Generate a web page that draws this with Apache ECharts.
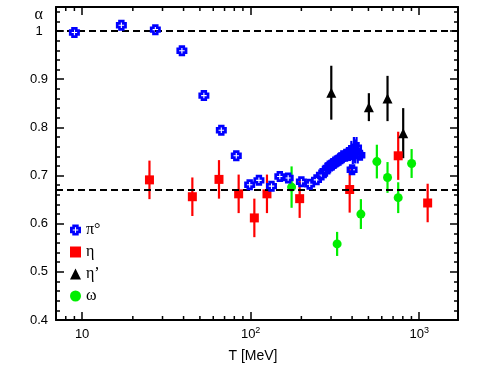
<!DOCTYPE html>
<html><head><meta charset="utf-8">
<script src="https://cdn.jsdelivr.net/npm/echarts@6/dist/echarts.min.js"></script>
<style>html,body{margin:0;padding:0;background:#fff}#c{width:491px;height:368px}</style>
</head><body><div id="c"></div>
<script>
// π0 data
const piT = [9.0, 17.1, 27.2, 39.1, 52.8, 67.0, 82.2, 98.7, 112, 133, 149, 167, 200, 224, 246, 263, 276, 288, 295, 303, 310, 318, 325, 332, 340, 347, 355, 363, 370, 377, 384, 389, 396, 400, 404, 410, 417, 425, 432, 445];
const piA = [0.997, 1.012, 1.003, 0.959, 0.866, 0.794, 0.741, 0.681, 0.690, 0.678, 0.698, 0.695, 0.687, 0.682, 0.691, 0.701, 0.709, 0.716, 0.720, 0.722, 0.725, 0.728, 0.730, 0.732, 0.735, 0.737, 0.741, 0.740, 0.744, 0.742, 0.748, 0.745, 0.752, 0.712, 0.744, 0.755, 0.750, 0.758, 0.745, 0.742];
const piErr = [0, 0, 0, 0, 0, 0, 0, 0, 0, 0, 0, 0, 0, 0, 0, 0, 0, 0, 0, 0, 0, 0, 0, 0, 0, 0, 0.008, 0.01, 0.012, 0.012, 0.015, 0.015, 0.02, 0.008, 0.02, 0.025, 0.025, 0.022, 0.02, 0.01];
// η data
const etaT = [25.1, 45.1, 64.9, 84.9, 105.2, 125, 195.4, 387, 751, 1123];
const etaA = [0.691, 0.656, 0.692, 0.662, 0.612, 0.662, 0.652, 0.671, 0.741, 0.643];
const etaErr = [0.04, 0.04, 0.04, 0.04, 0.04, 0.04, 0.04, 0.048, 0.05, 0.04];
// η' data
const etapT = [301, 503, 649, 804];
const etapA = [0.872, 0.842, 0.860, 0.788];
const etapErr = [0.056, 0.029, 0.047, 0.052];
// ω data
const omT = [175, 326, 451, 561, 649, 751, 902];
const omA = [0.676, 0.558, 0.620, 0.729, 0.696, 0.654, 0.725];
const omErr = [0.043, 0.025, 0.031, 0.035, 0.032, 0.032, 0.03];
// reference lines
const refLines = [1, 2 / 3];
// axis ticks
const xMinorTicks = [8, 9, 20, 30, 40, 50, 60, 70, 80, 90, 200, 300, 400, 500, 600, 700, 800, 900];
const names = ['π°', 'η', 'η’', 'ω'];

const crossPath = 'path://M2.5,0L9.5,0L9.5,2.5L12,2.5L12,9.5L9.5,9.5L9.5,12L2.5,12L2.5,9.5L0,9.5L0,2.5L2.5,2.5ZM5.4,3L5.4,5.4L3,5.4L3,6.6L5.4,6.6L5.4,9L6.6,9L6.6,6.6L9,6.6L9,5.4L6.6,5.4L6.6,3Z';
const BLUE = '#0000ff', RED = '#ff0000', GREEN = '#00ee00', BLACK = '#000000';

function errSeries(name, T, A, E, color) {
  return {
    type: 'custom', name: name, coordinateSystem: 'cartesian2d', silent: true, z: 2,
    data: T.map((t, i) => [t, A[i] - E[i], A[i] + E[i]]),
    encode: { x: 0, y: [1, 2] },
    renderItem: function (params, api) {
      const lo = api.coord([api.value(0), api.value(1)]);
      const hi = api.coord([api.value(0), api.value(2)]);
      return { type: 'line', shape: { x1: lo[0], y1: lo[1], x2: hi[0], y2: hi[1] }, style: { stroke: color, lineWidth: 2.2 } };
    }
  };
}
function pts(T, A) { return T.map((t, i) => [t, A[i]]); }

const xLabelFmt = function (v) {
  const e = Math.round(Math.log10(v));
  if (Math.abs(v - Math.pow(10, e)) > 1e-6 * v) return '';
  return e === 1 ? '{b|10}' : '{b|10}{s|' + e + '}';
};
const xRich = { b: { fontSize: 13, fontFamily: 'Liberation Sans', color: '#000', lineHeight: 16 }, s: { fontSize: 9, fontFamily: 'Liberation Sans', color: '#000', verticalAlign: 'top', lineHeight: 16, padding: [0, 0, 6, 0] } };

const baseX = {
  type: 'log', logBase: 10, min: 7, max: 1700,
  axisLine: { show: true, lineStyle: { color: '#000', width: 2 } },
  axisTick: { show: true, inside: true, length: 8, lineStyle: { color: '#000', width: 1.5 } },
  splitLine: { show: false }, minorSplitLine: { show: false }
};
const baseY = {
  type: 'value', min: 0.4, max: 1.05, interval: 0.1,
  axisLine: { show: true, lineStyle: { color: '#000', width: 2 } },
  axisTick: { show: true, inside: true, length: 8, lineStyle: { color: '#000', width: 1.5 } },
  minorTick: { show: true, splitNumber: 5, length: 4, lineStyle: { color: '#000', width: 1.5 } },
  splitLine: { show: false }, minorSplitLine: { show: false }
};

const chart = echarts.init(document.getElementById('c'), null, { renderer: 'canvas' });
chart.setOption({
  animation: false,
  backgroundColor: '#fff',
  grid: { left: 56, right: 33, top: 7, bottom: 48, containLabel: false },
  legend: {
    orient: 'vertical', left: 65, top: 217, itemGap: 6, itemWidth: 11, itemHeight: 11,
    textStyle: { fontFamily: 'Liberation Serif', fontSize: 16, color: '#000' },
    data: [
      { name: names[0], icon: crossPath },
      { name: names[1], icon: 'rect' },
      { name: names[2], icon: 'triangle' },
      { name: names[3], icon: 'circle' }
    ],
    selectedMode: false
  },
  xAxis: [
    Object.assign({}, baseX, {
      position: 'bottom',
      axisLabel: { show: true, formatter: xLabelFmt, rich: xRich, margin: 6, showMinLabel: false, showMaxLabel: false, color: '#000' },
      name: 'T [MeV]', nameLocation: 'middle', nameGap: 29,
      nameTextStyle: { fontFamily: 'Liberation Sans', fontSize: 14, color: '#000', padding: [0, 8, 0, 0] }
    }),
    Object.assign({}, baseX, { position: 'top', axisLabel: { show: false } })
  ],
  yAxis: [
    Object.assign({}, baseY, {
      position: 'left',
      axisLabel: {
        show: true, showMaxLabel: false, align: 'center', margin: 17, color: '#000',
        fontFamily: 'Liberation Sans', fontSize: 13,
        formatter: v => (v > 1.001 ? '' : String(Math.round(v * 10) / 10))
      },
      name: 'α', nameLocation: 'end', nameGap: -16,
      nameTextStyle: { fontFamily: 'Liberation Serif', fontSize: 16, color: '#000', align: 'right', padding: [0, 13, 0, 0] }
    }),
    Object.assign({}, baseY, { position: 'right', axisLabel: { show: false } })
  ],
  series: [
    {
      type: 'line', name: 'ref', data: [], silent: true, z: 1,
      markLine: {
        silent: true, symbol: 'none', label: { show: false },
        lineStyle: { color: '#000', type: [7, 4], width: 2 },
        data: refLines.map(v => ({ yAxis: v }))
      }
    },
    {
      type: 'custom', name: 'minorTicks', coordinateSystem: 'cartesian2d', silent: true, z: 3,
      data: xMinorTicks.map(v => [v, 0.4]), encode: { x: 0, y: 1 },
      renderItem: function (params, api) {
        const p = api.coord([api.value(0), 0.4]);
        const cs = params.coordSys;
        const st = { stroke: '#000', lineWidth: 1.5 };
        return { type: 'group', children: [
          { type: 'line', shape: { x1: p[0], y1: cs.y + cs.height, x2: p[0], y2: cs.y + cs.height - 4 }, style: st },
          { type: 'line', shape: { x1: p[0], y1: cs.y, x2: p[0], y2: cs.y + 4 }, style: st }
        ] };
      }
    },
    errSeries('piErr', piT.filter((t, i) => piErr[i] > 0), piA.filter((t, i) => piErr[i] > 0), piErr.filter(e => e > 0), BLUE),
    errSeries('etaErr', etaT, etaA, etaErr, RED),
    errSeries('etapErr', etapT, etapA, etapErr, BLACK),
    errSeries('omErr', omT, omA, omErr, GREEN),
    { type: 'scatter', name: names[1], data: pts(etaT, etaA), symbol: 'rect', symbolSize: 9, itemStyle: { color: RED, opacity: 1 }, z: 4 },
    { type: 'scatter', name: names[2], data: pts(etapT, etapA), symbol: 'triangle', symbolSize: 10, itemStyle: { color: BLACK, opacity: 1 }, z: 4 },
    { type: 'scatter', name: names[3], data: pts(omT, omA), symbol: 'circle', symbolSize: 9, itemStyle: { color: GREEN, opacity: 1 }, z: 4 },
    { type: 'scatter', name: names[0], data: pts(piT, piA), symbol: crossPath, symbolSize: 11, itemStyle: { color: BLUE, opacity: 1 }, z: 5 }
  ]
});
</script>
</body></html>
